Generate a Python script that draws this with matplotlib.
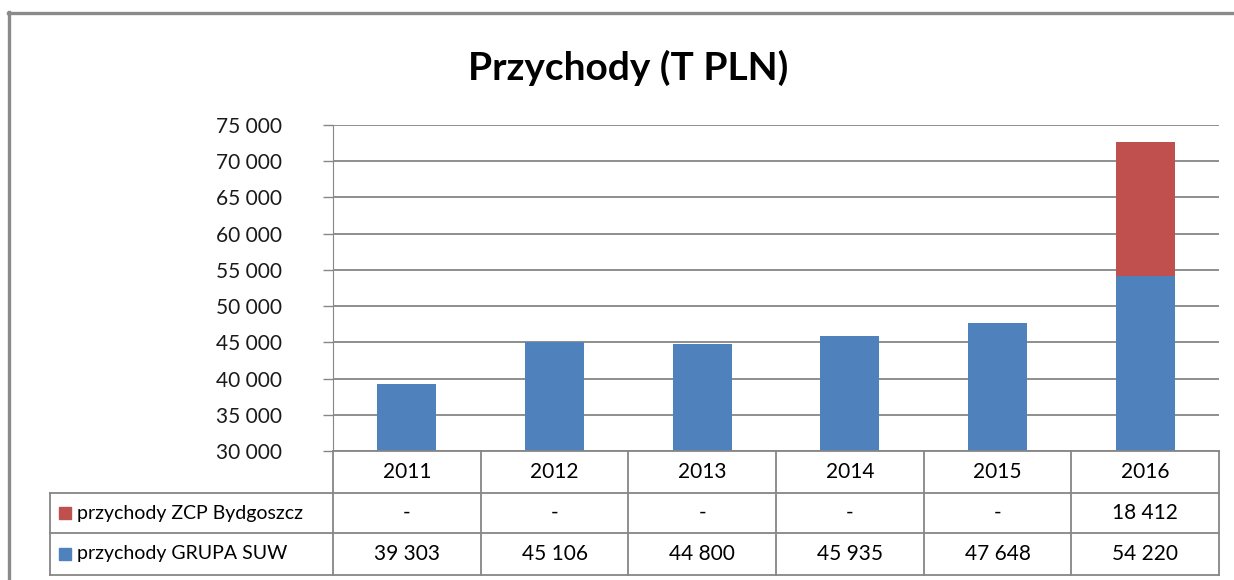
import numpy as np
import matplotlib.pyplot as plt
from matplotlib.lines import Line2D
from matplotlib.patches import Rectangle

years = ['2011', '2012', '2013', '2014', '2015', '2016']
suw = [39303, 45106, 44800, 45935, 47648, 54220]
zcp = [None, None, None, None, None, 18412]
series_labels = ['przychody ZCP Bydgoszcz', 'przychody GRUPA SUW']
yticks = np.arange(30000, 75001, 5000)

blue = '#4F81BD'
red = '#C0504D'
grey = '#868686'


def fmt(v):
    # thousands separated by a space, '-' for missing
    return '-' if v is None else f'{v:,}'.replace(',', ' ')


plt.rcParams['font.family'] = ['Lato', 'DejaVu Sans']

W, H = 1234, 580
fig = plt.figure(figsize=(W / 100, H / 100), dpi=100)
ax = fig.add_axes([333 / W, 1 - 451 / H, (1219 - 333) / W, (451 - 125) / H])

x = np.arange(len(years))
zcp_vals = [0 if v is None else v for v in zcp]
ax.bar(x, suw, width=0.4, color=blue, zorder=2)
ax.bar(x, zcp_vals, bottom=suw, width=0.4, color=red, zorder=2)

ax.set_xlim(-0.5, len(years) - 0.5)
ax.set_ylim(30000, 75000)
ax.set_yticks(yticks)
ax.set_yticklabels([fmt(int(v)) for v in yticks], fontsize=15, color='#1a1a1a')
ax.set_xticks([])
ax.yaxis.grid(True, color=grey, lw=1.3, zorder=0)
ax.tick_params(axis='y', length=7, width=1, color=grey, pad=30)
for s in ['top', 'right', 'bottom']:
    ax.spines[s].set_visible(False)
ax.spines['left'].set_color(grey)

fig.text(628 / W, 1 - 68 / H, 'Przychody (T PLN)', ha='center', va='center',
         fontsize=28, fontweight='bold')


# table under the axes, drawn in figure pixels
def px_line(x0, y0, x1, y1, lw=1.3, color=grey):
    fig.add_artist(Line2D([x0 / W, x1 / W], [1 - y0 / H, 1 - y1 / H],
                          color=color, lw=lw, transform=fig.transFigure))


col_edges = np.linspace(333, 1219, len(years) + 1)
rows = [451, 493, 533, 575]
px_line(333, rows[0], 1219, rows[0])
for r in rows[1:]:
    px_line(50, r, 1219, r)
for c in col_edges:
    px_line(c, rows[0], c, rows[-1])
px_line(50, rows[1], 50, rows[-1])

tx = ax.get_xaxis_transform()
row_mid = [(rows[i] + rows[i + 1]) / 2 for i in range(3)]
for i, yr in enumerate(years):
    ax.text(x[i], (451 - row_mid[0]) / 326, yr, transform=tx, ha='center',
            va='center', fontsize=15, clip_on=False)
    ax.text(x[i], (451 - row_mid[1]) / 326, fmt(zcp[i]), transform=tx, ha='center',
            va='center', fontsize=15, clip_on=False)
    ax.text(x[i], (451 - row_mid[2]) / 326, fmt(suw[i]), transform=tx, ha='center',
            va='center', fontsize=15, clip_on=False)

for lab, col, ym in zip(series_labels, [red, blue], row_mid[1:]):
    fig.add_artist(Rectangle((59 / W, 1 - (ym + 6) / H), 12 / W, 12 / H,
                             color=col, transform=fig.transFigure))
    fig.text(77 / W, 1 - ym / H, lab, ha='left', va='center', fontsize=14)

# outer frame (top and left edges visible)
px_line(8, 12.5, 1234, 12.5, lw=2.4, color='#8a8a8a')
px_line(9, 12, 9, 580, lw=2.4, color='#8a8a8a')

fig.savefig('out.png', dpi=100)
